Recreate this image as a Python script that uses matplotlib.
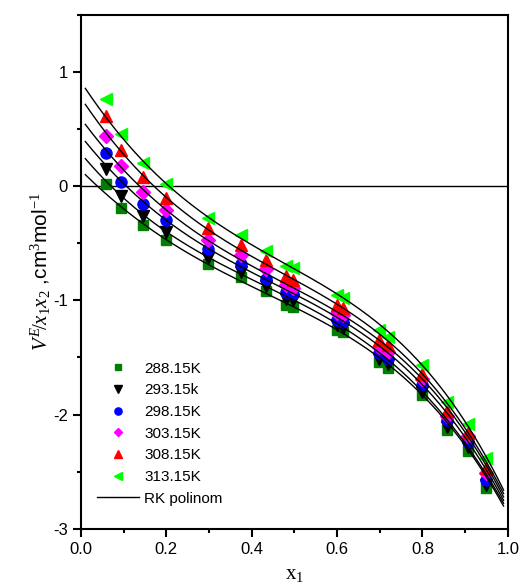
import numpy as np
import matplotlib
matplotlib.use('Agg')
import matplotlib.pyplot as plt
from matplotlib.ticker import MultipleLocator, FormatStrFormatter

plt.rcParams['font.family'] = ['Liberation Sans', 'DejaVu Sans']
plt.rcParams['axes.unicode_minus'] = False
plt.rcParams['mathtext.fontset'] = 'custom'
plt.rcParams['mathtext.rm'] = 'Liberation Serif'
plt.rcParams['mathtext.it'] = 'Liberation Serif:italic'

# mole fraction x1
x1 = [0.059, 0.093, 0.146, 0.199, 0.298, 0.374, 0.433, 0.480, 0.497,
      0.599, 0.614, 0.699, 0.720, 0.800, 0.858, 0.907, 0.948]

# V^E/(x1 x2)
v288 = [0.02, -0.195, -0.34, -0.47, -0.68, -0.80, -0.92, -1.04, -1.06,
        -1.26, -1.275, -1.54, -1.595, -1.83, -2.135, -2.32, -2.64]
v293 = [0.146, -0.09, -0.26, -0.40, -0.63, -0.75, -0.875, -0.985, -1.0,
        -1.22, -1.24, -1.51, -1.56, -1.80, -2.11, -2.28, -2.62]
v298 = [0.29, 0.04, -0.16, -0.30, -0.55, -0.68, -0.81, -0.925, -0.945,
        -1.17, -1.19, -1.46, -1.51, -1.74, -2.05, -2.24, -2.57]
v303 = [0.44, 0.175, -0.055, -0.21, -0.47, -0.60, -0.73, -0.87, -0.895,
        -1.11, -1.13, -1.41, -1.45, -1.69, -2.01, -2.19, -2.51]
v308 = [0.61, 0.32, 0.08, -0.10, -0.37, -0.52, -0.65, -0.79, -0.82,
        -1.04, -1.07, -1.35, -1.39, -1.645, -1.97, -2.16, -2.47]
v313 = [0.76, 0.46, 0.20, 0.02, -0.28, -0.43, -0.57, -0.70, -0.72,
        -0.955, -0.98, -1.26, -1.32, -1.57, -1.89, -2.08, -2.38]

# Redlich-Kister coefficients A0..A4, in powers of (2x1 - 1), estimated from the curves
rk288 = [-1.06, -0.9257, -0.2189, -0.5767, -0.0865]
rk293 = [-1.00, -0.9439, -0.2773, -0.6189, -0.0012]
rk298 = [-0.945, -0.9589, -0.1865, -0.6696, -0.0606]
rk303 = [-0.895, -0.9755, -0.1226, -0.7161, -0.0837]
rk308 = [-0.82, -1.0178, -0.1287, -0.7491, -0.0476]
rk313 = [-0.725, -1.0442, -0.1114, -0.7801, -0.0765]
rk_range = [0.01, 0.99]

labels = ['288.15K', '293.15k', '298.15K', '303.15K', '308.15K', '313.15K']
series = [v288, v293, v298, v303, v308, v313]
coefs = [rk288, rk293, rk298, rk303, rk308, rk313]
markers = ['s', 'v', 'o', 'D', '^', '<']
colors = ['#008000', '#000000', '#0000ff', '#ff00ff', '#ff0000', '#00ff00']
sizes = [7, 9, 8, 7, 9, 9]

fig = plt.figure(figsize=(5.23, 5.87), dpi=100)
ax = fig.add_axes([0.155, 0.099, 0.816, 0.876])

ax.axhline(0, color='black', lw=1.0, zorder=1)

xs = np.linspace(rk_range[0], rk_range[1], 300)
for a in coefs:
    t = 2 * xs - 1
    ys = sum(ak * t ** k for k, ak in enumerate(a))
    ax.plot(xs, ys, color='black', lw=1.0, zorder=3)

handles = []
for v, lab, m, col, s in zip(series, labels, markers, colors, sizes):
    h, = ax.plot(x1, v, ls='none', marker=m, color=col, ms=s, mec=col,
                 label=lab, zorder=2)
    handles.append(h)
lh, = ax.plot([], [], color='black', lw=1.0, label='RK polinom')
handles.append(lh)

ax.set_xlim(0, 1)
ax.set_ylim(-3, 1.5)
ax.xaxis.set_major_locator(MultipleLocator(0.2))
ax.xaxis.set_minor_locator(MultipleLocator(0.1))
ax.xaxis.set_major_formatter(FormatStrFormatter('%.1f'))
ax.set_yticks([-3, -2, -1, 0, 1])
ax.yaxis.set_minor_locator(MultipleLocator(0.5))
ax.tick_params(which='major', direction='out', length=6, width=1.5, labelsize=12)
ax.tick_params(which='minor', direction='out', length=3, width=1.5)
for sp in ax.spines.values():
    sp.set_linewidth(1.5)

ax.set_xlabel(r'$\mathrm{x}_{1}$', fontsize=15, labelpad=6)
ax.set_ylabel(r'$V^{E}\!/x_{1}x_{2}$ ,cm$^{3}$mol$^{-1}$', fontsize=15, labelpad=0)

ax.legend(handles=handles, loc='upper left', bbox_to_anchor=(0.0375, 0.325),
          frameon=False, fontsize=11, markerscale=0.65, handlelength=2.75,
          handletextpad=0.35, labelspacing=0.5, borderpad=0, borderaxespad=0)

fig.savefig('out.png', dpi=100)
